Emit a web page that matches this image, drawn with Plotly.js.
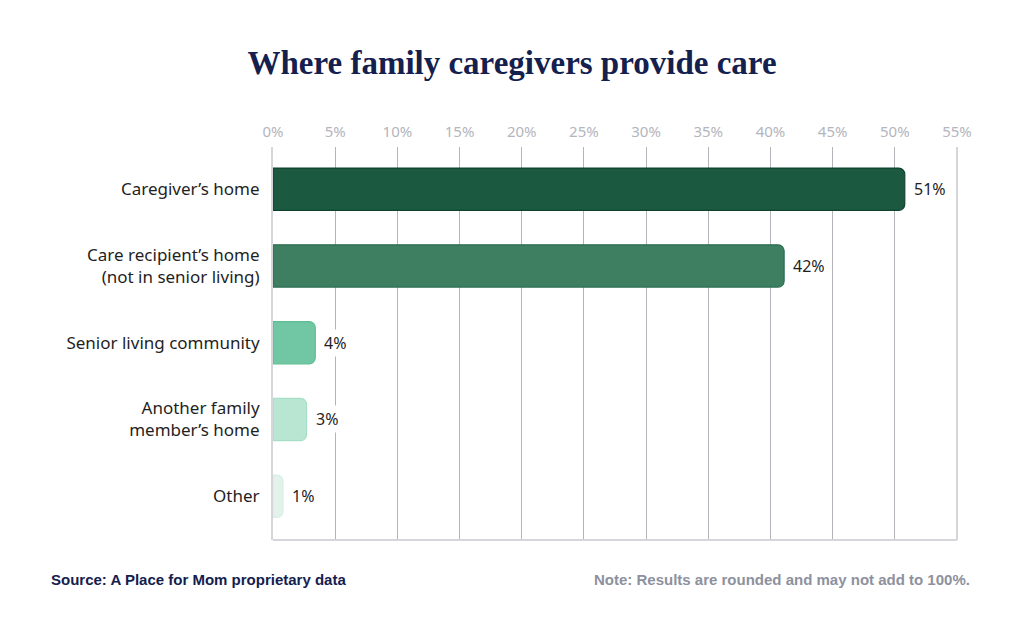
<!DOCTYPE html>
<html>
<head>
<meta charset="utf-8">
<script src="https://cdn.plot.ly/plotly-3.0.1.min.js"></script>
<style>
  html, body { margin: 0; padding: 0; background: #fff; }
  #chart { width: 1024px; height: 628px; }
</style>
</head>
<body>
<div id="chart"></div>
<script>
// data
var categories = [
  "Caregiver’s home",
  "Care recipient’s home<br>(not in senior living)",
  "Senior living community",
  "Another family<br>member’s home",
  "Other"
];
var shares = [50.8, 41.1, 3.4, 2.7, 0.8];
var shareLabels = ["51%", "42%", "4%", "3%", "1%"];
var tickVals = [0, 5, 10, 15, 20, 25, 30, 35, 40, 45, 50, 55];

var fills = ["#1b5a40", "#3e7f62", "#71c6a3", "#b8e6d3", "#e3f3ec"];
var outlines = ["#0f4330", "#2b6e51", "#5dbd93", "#a7dec7", "#d6ede3"];

var labelFont = {family: "Noto Sans, sans-serif", size: 17, color: "#1f1f1f"};

var trace = {
  type: "bar",
  orientation: "h",
  y: categories,
  x: shares,
  width: 0.55,
  marker: {
    color: fills,
    line: {color: outlines, width: 1.2},
    cornerradius: 6
  },
  hoverinfo: "none"
};

// value labels sit just past each bar, on white so the gridline breaks behind them
var annotations = shares.map(function (v, i) {
  return {
    x: v, y: categories[i], xref: "x", yref: "y",
    text: shareLabels[i], showarrow: false,
    xanchor: "left", xshift: 6,
    bgcolor: "#ffffff", borderpad: 2,
    font: {family: "Noto Sans, sans-serif", size: 16, color: "#1f1f1f"}
  };
});

var layout = {
  width: 1024,
  height: 628,
  margin: {l: 273, r: 67, t: 147, b: 88},
  paper_bgcolor: "#ffffff",
  plot_bgcolor: "#ffffff",
  showlegend: false,
  title: {
    text: "<b>Where family caregivers provide care</b>",
    xref: "container", yref: "container",
    x: 0.5, xanchor: "center",
    y: 0.9, yanchor: "middle",
    font: {family: "Liberation Serif, serif", size: 33, color: "#14204e"}
  },
  xaxis: {
    side: "top",
    range: [0, 55],
    tickvals: tickVals,
    ticktext: tickVals.map(function (t) { return t + "%"; }),
    ticks: "",
    ticklabelstandoff: 6,
    showgrid: true,
    gridcolor: "#b3b4ba",
    gridwidth: 1,
    zeroline: false,
    showline: false,
    tickfont: {family: "Noto Sans, sans-serif", size: 15, color: "#b4b5bd"},
    fixedrange: true
  },
  yaxis: {
    range: [4.57, -0.55],
    ticks: "outside",
    ticklen: 8,
    tickcolor: "rgba(0,0,0,0)",
    showgrid: false,
    zeroline: false,
    showline: true,
    linecolor: "#d6d6da",
    linewidth: 2,
    tickfont: labelFont,
    fixedrange: true
  },
  shapes: [
    {type: "line", xref: "x domain", yref: "y domain", x0: 0, x1: 1, y0: 0, y1: 0,
     line: {color: "#d6d6da", width: 2}},
    {type: "line", xref: "x domain", yref: "y domain", x0: 1, x1: 1, y0: 0, y1: 1,
     line: {color: "#d6d6da", width: 2}}
  ],
  annotations: annotations.concat([
    {xref: "paper", yref: "paper", x: -0.327, y: -0.1, xanchor: "left", yanchor: "middle",
     text: "<b>Source: A Place for Mom proprietary data</b>", showarrow: false,
     font: {family: "Liberation Sans, Arial, sans-serif", size: 15, color: "#14204e"}},
    {xref: "paper", yref: "paper", x: 1.022, y: -0.1, xanchor: "right", yanchor: "middle",
     text: "<b>Note: Results are rounded and may not add to 100%.</b>", showarrow: false,
     font: {family: "Liberation Sans, Arial, sans-serif", size: 15, color: "#8d919e"}}
  ])
};

Plotly.newPlot("chart", [trace], layout, {displayModeBar: false, staticPlot: true});
</script>
</body>
</html>
